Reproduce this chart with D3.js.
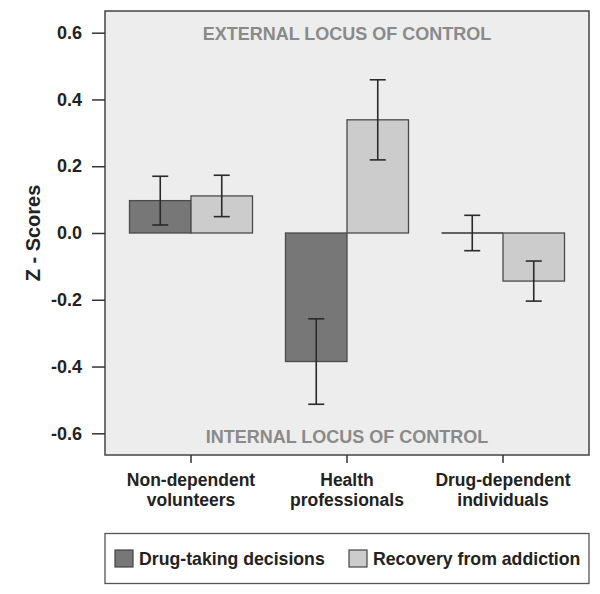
<!DOCTYPE html>
<html>
<head>
<meta charset="utf-8">
<script src="https://cdn.jsdelivr.net/npm/d3@7"></script>
<style>
  body { margin: 0; background: #fff; }
  text { font-family: "Liberation Sans", Arial, sans-serif; font-weight: bold; }
</style>
</head>
<body>
<svg id="chart" width="600" height="594"></svg>
<script>
// data
const groups = ["Non-dependent volunteers", "Health professionals", "Drug-dependent individuals"];
const groupLines = [["Non-dependent", "volunteers"], ["Health", "professionals"], ["Drug-dependent", "individuals"]];
const series = ["Drug-taking decisions", "Recovery from addiction"];
const drugTaking = [0.097, -0.385, 0.0];
const drugTakingErr = [0.073, 0.128, 0.053];
const recovery = [0.111, 0.339, -0.144];
const recoveryErr = [0.062, 0.12, 0.06];
const yTicks = [-0.6, -0.4, -0.2, 0.0, 0.2, 0.4, 0.6];
const yTickLabels = ["-0.6", "-0.4", "-0.2", "0.0", "0.2", "0.4", "0.6"];
const colors = ["#777777", "#cccccc"];

const svg = d3.select("#chart");
const m = {left: 105, right: 589, top: 11, bottom: 455};

const x = d3.scaleBand()
  .domain(groups)
  .range([m.left, m.right])
  .paddingInner(0.2115)
  .paddingOuter(0.157);
const xs = d3.scaleBand()
  .domain(series)
  .range([0, x.bandwidth()]);
const y = d3.scaleLinear()
  .domain([-0.665, 0.665])
  .range([m.bottom, m.top]);

// plot background
svg.append("rect")
  .attr("x", m.left).attr("y", m.top)
  .attr("width", m.right - m.left).attr("height", m.bottom - m.top)
  .attr("fill", "#ededed");

svg.append("text")
  .attr("x", x(groups[1]) + x.bandwidth() / 2).attr("y", 40)
  .attr("text-anchor", "middle")
  .attr("font-size", 18).attr("fill", "#8a8a8a")
  .text("EXTERNAL LOCUS OF CONTROL");
svg.append("text")
  .attr("x", x(groups[1]) + x.bandwidth() / 2).attr("y", 443)
  .attr("text-anchor", "middle")
  .attr("font-size", 18).attr("fill", "#8a8a8a")
  .text("INTERNAL LOCUS OF CONTROL");

const rows = groups.map((g, i) => [
  {g: g, s: series[0], v: drugTaking[i], e: drugTakingErr[i], c: colors[0]},
  {g: g, s: series[1], v: recovery[i], e: recoveryErr[i], c: colors[1]}
]).flat();

const bars = svg.append("g").selectAll("g.bar")
  .data(rows)
  .join("g")
  .attr("class", "bar");

bars.append("rect")
  .attr("x", d => x(d.g) + xs(d.s))
  .attr("width", xs.bandwidth())
  .attr("y", d => y(Math.max(0, d.v)))
  .attr("height", d => Math.abs(y(d.v) - y(0)))
  .attr("fill", d => d.c)
  .attr("stroke", "#4a4a4a")
  .attr("stroke-width", 1.3);

// zero-height bar shows as a line
bars.filter(d => d.v === 0).append("line")
  .attr("x1", d => x(d.g) + xs(d.s))
  .attr("x2", d => x(d.g) + xs(d.s) + xs.bandwidth())
  .attr("y1", y(0)).attr("y2", y(0))
  .attr("stroke", "#333").attr("stroke-width", 1.5);

// error bars
const cx = d => x(d.g) + xs(d.s) + xs.bandwidth() / 2;
bars.append("line")
  .attr("x1", cx).attr("x2", cx)
  .attr("y1", d => y(d.v + d.e)).attr("y2", d => y(d.v - d.e))
  .attr("stroke", "#2a2a2a").attr("stroke-width", 1.6);
[1, -1].forEach(k => {
  bars.append("line")
    .attr("x1", d => cx(d) - 8).attr("x2", d => cx(d) + 8)
    .attr("y1", d => y(d.v + k * d.e)).attr("y2", d => y(d.v + k * d.e))
    .attr("stroke", "#2a2a2a").attr("stroke-width", 1.6);
});

// frame
svg.append("rect")
  .attr("x", m.left).attr("y", m.top)
  .attr("width", m.right - m.left).attr("height", m.bottom - m.top)
  .attr("fill", "none").attr("stroke", "#444").attr("stroke-width", 1.5);

// y axis
const yAxis = svg.append("g")
  .attr("transform", `translate(${m.left},0)`)
  .call(d3.axisLeft(y).tickValues(yTicks).tickSize(13).tickPadding(10)
    .tickFormat((d, i) => yTickLabels[i]));
yAxis.select(".domain").remove();
yAxis.selectAll(".tick line").attr("stroke", "#333").attr("stroke-width", 1.5);
yAxis.selectAll(".tick text")
  .attr("font-size", 18).attr("fill", "#222")
  .attr("font-family", "Liberation Sans, Arial, sans-serif").attr("font-weight", "bold");

svg.append("text")
  .attr("transform", `translate(40,${y(0)}) rotate(-90)`)
  .attr("text-anchor", "middle")
  .attr("font-size", 20).attr("fill", "#222")
  .text("Z - Scores");

// x axis
const xAxis = svg.append("g")
  .attr("transform", `translate(0,${m.bottom})`)
  .call(d3.axisBottom(x).tickSize(8).tickFormat(""));
xAxis.select(".domain").remove();
xAxis.selectAll(".tick line").attr("stroke", "#333").attr("stroke-width", 1.5);

const xl = svg.append("g").selectAll("text")
  .data(groups)
  .join("text")
  .attr("x", d => x(d) + x.bandwidth() / 2)
  .attr("y", 486)
  .attr("text-anchor", "middle")
  .attr("font-size", 17.5).attr("fill", "#222");
xl.each(function(d, i) {
  groupLines[i].forEach((t, j) => {
    d3.select(this).append("tspan")
      .attr("x", x(d) + x.bandwidth() / 2)
      .attr("dy", j === 0 ? 0 : 20)
      .text(t);
  });
});

// legend
svg.append("rect")
  .attr("x", 105).attr("y", 533.5)
  .attr("width", 484).attr("height", 50)
  .attr("fill", "#fff").attr("stroke", "#555").attr("stroke-width", 1.3);
const legX = [115, 349];
const leg = svg.append("g").selectAll("g")
  .data(series)
  .join("g")
  .attr("transform", (d, i) => `translate(${legX[i]},550)`);
leg.append("rect")
  .attr("width", 18).attr("height", 17)
  .attr("fill", (d, i) => colors[i])
  .attr("stroke", "#444").attr("stroke-width", 1.2);
leg.append("text")
  .attr("x", 24).attr("y", 14.5)
  .attr("font-size", 17.7).attr("fill", "#222")
  .text(d => d);
</script>
</body>
</html>
